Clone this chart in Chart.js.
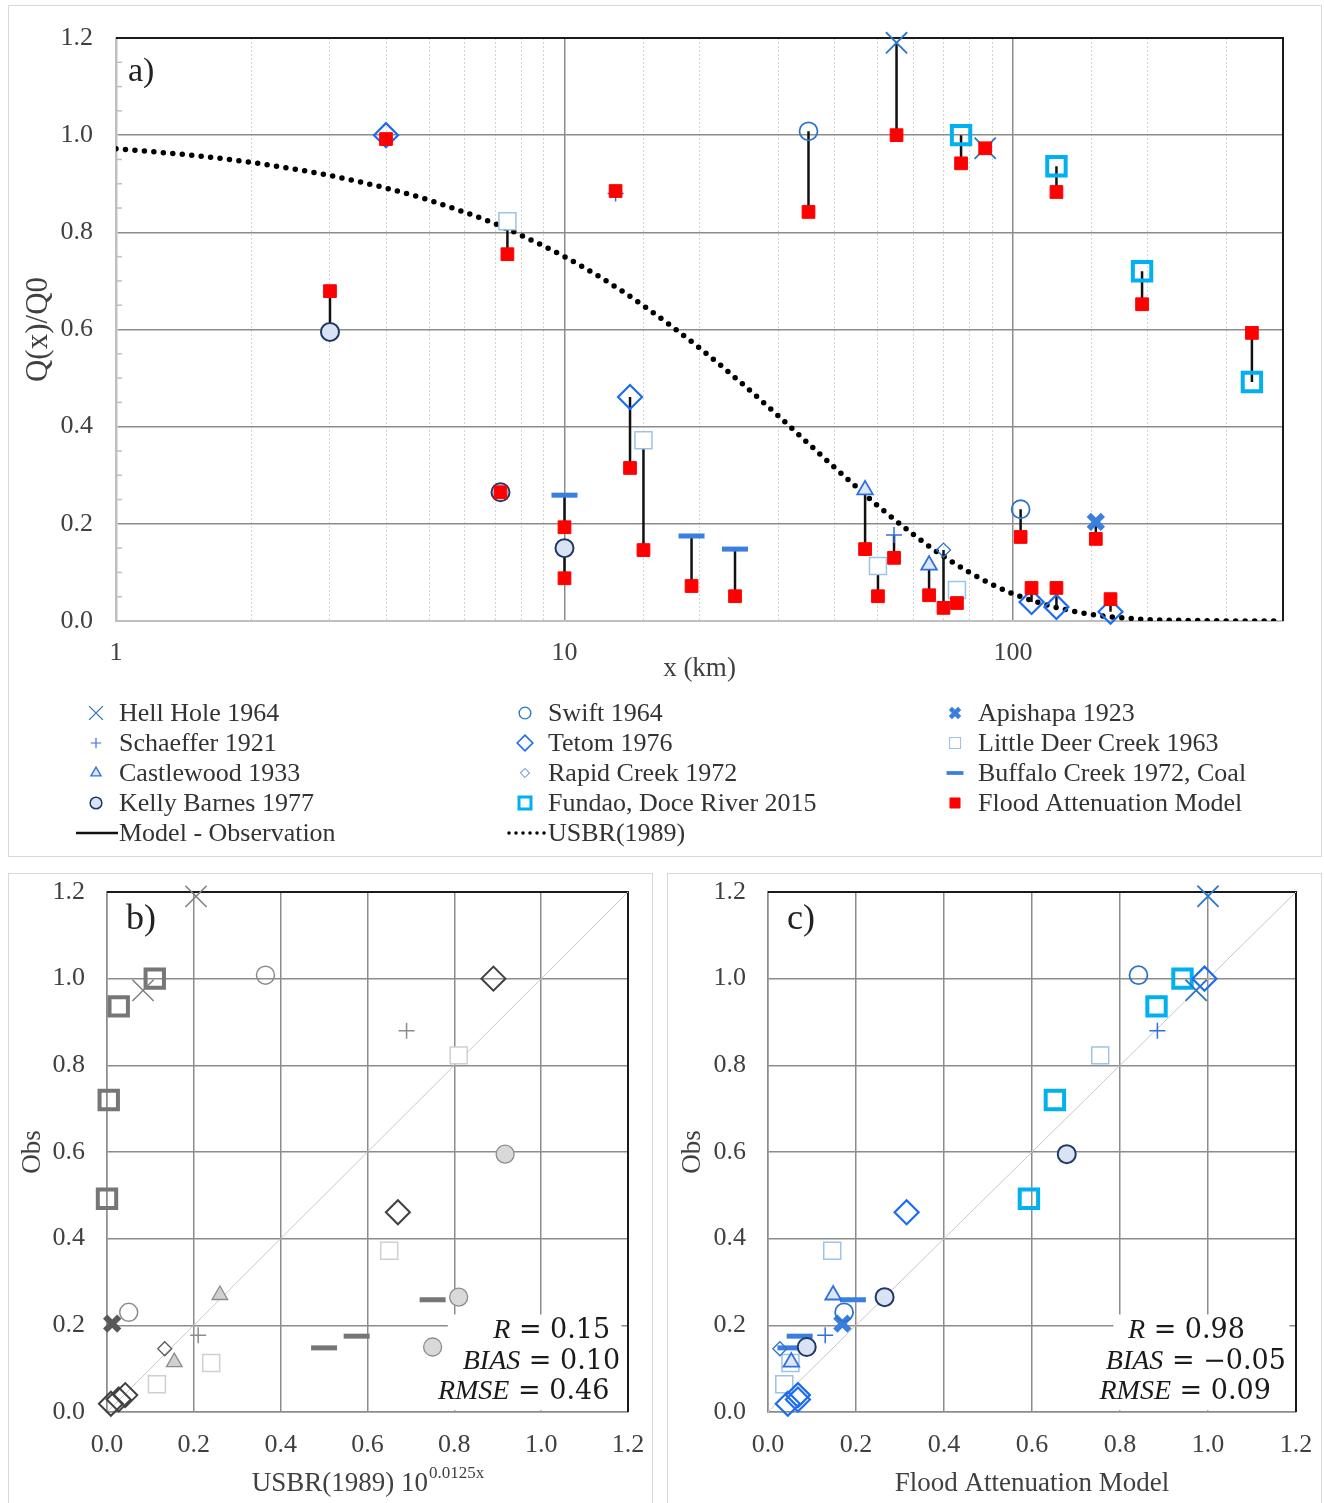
<!DOCTYPE html>
<html lang="en">
<head>
<meta charset="UTF-8">
<title>Flood attenuation vs observations</title>
<script src="https://cdn.jsdelivr.net/npm/chart.js"></script>
<style>
  body { margin: 0; background: #fff; width: 1324px; height: 1503px; overflow: hidden; position: relative; }
  .panel { position: absolute; border: 1px solid #d9d9d9; box-sizing: border-box; overflow: hidden; background: #fff; }
  #pa { left: 8px; top: 5px; width: 1314px; height: 852px; }
  #pb { left: 8px; top: 873px; width: 645px; height: 640px; }
  #pc { left: 667px; top: 873px; width: 655px; height: 640px; }
  canvas { display: block; }
</style>
</head>
<body>
<div class="panel" id="pa"><canvas id="chartA" width="1312" height="850"></canvas></div>
<div class="panel" id="pb"><canvas id="chartB" width="643" height="638"></canvas></div>
<div class="panel" id="pc"><canvas id="chartC" width="653" height="638"></canvas></div>

<script>
// ---- data ----
const sites = ['Hell Hole 1964', 'Schaeffer 1921', 'Castlewood 1933', 'Kelly Barnes 1977',
  'Swift 1964', 'Tetom 1976', 'Rapid Creek 1972', 'Fundao, Doce River 2015',
  'Apishapa 1923', 'Little Deer Creek 1963', 'Buffalo Creek 1972, Coal'];

// distance downstream (km)
const siteDist = [[55, 86.7], [13, 54.3], [46.8, 65], [3, 7.2, 10],
  [35, 104], [4, 14, 110, 125, 165], [70], [76.6, 125, 194, 341],
  [153], [7.46, 15, 50, 75], [10, 19.2, 24]];
// observed Q(x)/Q0
const siteObs = [[1.19, 0.973], [0.88, 0.177], [0.27, 0.115], [0.595, 0.265, 0.150],
  [1.008, 0.23], [1.0, 0.461, 0.039, 0.029, 0.019], [0.146], [1.0, 0.936, 0.72, 0.492],
  [0.204], [0.823, 0.372, 0.113, 0.064], [0.259, 0.175, 0.148]];
// flood attenuation model
const siteModel = [[1.0, 0.973], [0.885, 0.13], [0.148, 0.053], [0.679, 0.265, 0.088],
  [0.842, 0.173], [0.992, 0.315, 0.068, 0.068, 0.045], [0.027], [0.942, 0.883, 0.652, 0.593],
  [0.169], [0.755, 0.146, 0.051, 0.037], [0.193, 0.072, 0.051]];
// USBR(1989) value at each site (panel b x values)
const siteUsbr = [[0.205, 0.083], [0.69, 0.21], [0.26, 0.155], [0.917, 0.81, 0.75],
  [0.365, 0.05], [0.89, 0.67, 0.042, 0.027, 0.009], [0.133], [0.11, 0.027, 0.004, 0.0],
  [0.012], [0.81, 0.65, 0.24, 0.115], [0.75, 0.575, 0.50]];

// USBR(1989) dotted curve
const usbrDist = [1, 1.5, 2, 3, 4, 5, 6, 7, 8, 10, 12, 15, 20, 25, 30, 35, 40, 45, 50, 60, 70, 80, 90, 100, 120, 140, 160, 200, 250, 300, 400];
const usbrVal = [0.972, 0.958, 0.944, 0.917, 0.891, 0.866, 0.841, 0.818, 0.794, 0.75, 0.708, 0.649, 0.562, 0.487, 0.422, 0.365, 0.316, 0.274, 0.237, 0.178, 0.133, 0.1, 0.075, 0.056, 0.032, 0.018, 0.01, 0.003, 0.001, 0.0002, 0];

const yTicks = [0, 0.2, 0.4, 0.6, 0.8, 1.0, 1.2];
const xLogLabels = [1, 10, 100];
const oneToOne = [0, 1.2];
const statNames = ['R', 'BIAS', 'RMSE'];
const statsB = ['0.15', '0.10', '0.46'];
const statsC = ['0.98', '\u22120.05', '0.09'];

// ---- styles ----
const NONE = 'rgba(0,0,0,0)';
const blueStyle = [
  { pointStyle: 'crossRot', radius: 15, borderWidth: 1.8, borderColor: '#2e75c6', backgroundColor: NONE },
  { pointStyle: 'cross', radius: 8, borderWidth: 1.5, borderColor: '#2f6fe0', backgroundColor: NONE },
  { pointStyle: 'triangle', radius: 9, borderWidth: 1.8, borderColor: '#2f6fe0', backgroundColor: '#dce8f8' },
  { pointStyle: 'circle', radius: 9, borderWidth: 2, borderColor: '#203864', backgroundColor: '#dae3f3' },
  { pointStyle: 'circle', radius: 9, borderWidth: 1.8, borderColor: '#2e75c6', backgroundColor: NONE },
  { pointStyle: 'rectRot', radius: 12, borderWidth: 2.2, borderColor: '#1c6cf0', backgroundColor: NONE },
  { pointStyle: 'rectRot', radius: 7, borderWidth: 1.3, borderColor: '#2e75c6', backgroundColor: NONE },
  { pointStyle: 'rect', radius: 13, borderWidth: 4, borderColor: '#00b0f0', backgroundColor: NONE },
  { pointStyle: 'crossRot', radius: 10, borderWidth: 6, borderColor: '#3a7ee0', backgroundColor: NONE },
  { pointStyle: 'rect', radius: 12, borderWidth: 1.5, borderColor: '#9dc3e6', backgroundColor: '#ffffff' },
  { pointStyle: 'line', radius: 13, borderWidth: 5, borderColor: '#3a7ee0', backgroundColor: NONE }
];
const grayStyle = [
  { pointStyle: 'crossRot', radius: 15, borderWidth: 1.5, borderColor: '#7f7f7f', backgroundColor: NONE },
  { pointStyle: 'cross', radius: 8, borderWidth: 1.5, borderColor: '#8c8c8c', backgroundColor: NONE },
  { pointStyle: 'triangle', radius: 9, borderWidth: 1.3, borderColor: '#8c8c8c', backgroundColor: '#d0d0d0' },
  { pointStyle: 'circle', radius: 9, borderWidth: 1.3, borderColor: '#8c8c8c', backgroundColor: '#d9d9d9' },
  { pointStyle: 'circle', radius: 9, borderWidth: 1.5, borderColor: '#8c8c8c', backgroundColor: NONE },
  { pointStyle: 'rectRot', radius: 12, borderWidth: 2, borderColor: '#404040', backgroundColor: NONE },
  { pointStyle: 'rectRot', radius: 7, borderWidth: 1.3, borderColor: '#595959', backgroundColor: NONE },
  { pointStyle: 'rect', radius: 13, borderWidth: 4, borderColor: '#767676', backgroundColor: NONE },
  { pointStyle: 'crossRot', radius: 10, borderWidth: 6, borderColor: '#595959', backgroundColor: NONE },
  { pointStyle: 'rect', radius: 12, borderWidth: 1.5, borderColor: '#d0d0d0', backgroundColor: '#ffffff' },
  { pointStyle: 'line', radius: 13, borderWidth: 5, borderColor: '#767676', backgroundColor: NONE }
];
const modelStyle = { pointStyle: 'rect', radius: 9, borderWidth: 1, borderColor: '#ff0000', backgroundColor: '#ff0000' };

Chart.defaults.font.family = '"Liberation Serif", "Times New Roman", serif';
Chart.defaults.color = '#404040';

const FONT = '"Liberation Serif", "Times New Roman", serif';
const drawPoint = Chart.helpers.drawPoint;

function pairs(xs, ys) { return xs.map((x, i) => ({ x: x, y: ys[i] })); }
function near(a, b) { return Math.abs(a - b) < 1e-6; }
function isDecade(v) { const l = Math.log10(v); return Math.abs(l - Math.round(l)) < 1e-9; }

function markerSet(style, data, label, order) {
  return {
    label: label, data: data, order: order, clip: false,
    pointStyle: style.pointStyle, pointRadius: style.radius, pointHoverRadius: style.radius,
    pointBorderWidth: style.borderWidth, pointBorderColor: style.borderColor,
    pointBackgroundColor: style.backgroundColor, borderColor: style.borderColor, backgroundColor: style.backgroundColor
  };
}

function setMarker(ctx, style, x, y, scale) {
  ctx.fillStyle = style.backgroundColor;
  ctx.strokeStyle = style.borderColor;
  ctx.lineWidth = style.borderWidth * Math.max(scale, 0.75);
  drawPoint(ctx, { pointStyle: style.pointStyle, radius: style.radius * scale, borderWidth: style.borderWidth, rotation: 0 }, x, y);
}

// frame: black top and right edge, panel letter
function framePlugin(letter, lx, ly, size) {
  return {
    id: 'frame' + letter,
    beforeDatasetsDraw(chart) {
      const { ctx, chartArea: a } = chart;
      ctx.save();
      ctx.strokeStyle = '#1a1a1a';
      ctx.lineWidth = 2;
      ctx.beginPath();
      ctx.moveTo(a.left, a.top);
      ctx.lineTo(a.right, a.top);
      ctx.lineTo(a.right, a.bottom);
      ctx.stroke();
      ctx.fillStyle = '#222';
      ctx.font = size + 'px ' + FONT;
      ctx.textBaseline = 'middle';
      ctx.textAlign = 'left';
      ctx.fillText(letter, a.left + lx, a.top + ly);
      ctx.restore();
    }
  };
}

// white box with the statistics
function statsPlugin(values, rightX) {
  const rows = [0.188, 0.116, 0.046];
  return {
    id: 'stats',
    beforeDatasetsDraw(chart) {
      const { ctx, scales: { x, y } } = chart;
      ctx.save();
      const l = x.getPixelForValue(0.785), r = x.getPixelForValue(1.185);
      const t = y.getPixelForValue(0.225), b = y.getPixelForValue(0.004);
      ctx.fillStyle = '#fff';
      ctx.fillRect(l, t, r - l, b - t);
      ctx.fillStyle = '#1a1a1a';
      ctx.textBaseline = 'middle';
      ctx.textAlign = 'right';
      statNames.forEach((name, i) => {
        const px = x.getPixelForValue(rightX[i]);
        const py = y.getPixelForValue(rows[i]);
        ctx.font = '27px "DejaVu Serif", ' + FONT;
        const rest = ' = ' + values[i];
        const w = ctx.measureText(rest).width;
        ctx.fillText(rest, px, py);
        ctx.font = 'italic 28px ' + FONT;
        ctx.fillText(name, px - w, py);
      });
      ctx.restore();
    }
  };
}

const tickFont = { size: 26, lineHeight: 1 };

function squareScales(xTitle, yPad, yWidth) {
  return {
    x: {
      type: 'linear', min: 0, max: 1.2,
      afterBuildTicks: s => { s.ticks = yTicks.map(v => ({ value: v })); },
      afterFit: s => { s.height = 91; },
      ticks: { padding: 0, font: tickFont, callback: v => v.toFixed(1), maxRotation: 0, autoSkip: false },
      grid: { color: '#8c8c8c', lineWidth: 1.5, drawTicks: true, tickLength: 20, tickColor: NONE },
      border: { color: '#8c8c8c', width: 1.5 },
      title: xTitle ? { display: true, text: xTitle, font: { size: 27 }, color: '#404040', padding: { top: 0, bottom: 3 } } : { display: false }
    },
    y: {
      type: 'linear', min: 0, max: 1.2,
      afterBuildTicks: s => { s.ticks = yTicks.map(v => ({ value: v })); },
      afterFit: s => { s.width = yWidth; },
      ticks: { padding: 0, font: tickFont, callback: v => v.toFixed(1) },
      grid: { color: '#8c8c8c', lineWidth: 1.5, drawTicks: true, tickLength: 22, tickColor: NONE },
      border: { color: '#8c8c8c', width: 1.5 },
      title: { display: true, text: 'Obs', font: { size: 27 }, color: '#404040', padding: { top: yPad, bottom: 0 } }
    }
  };
}

// ---------------- panel a ----------------
const dsA = [];
const modelPts = [];
const diffPts = [];
sites.forEach((name, s) => {
  siteDist[s].forEach((d, i) => {
    modelPts.push({ x: d, y: siteModel[s][i] });
    diffPts.push({ x: d, y: siteObs[s][i] }, { x: d, y: siteModel[s][i] }, { x: d, y: null });
  });
});
dsA.push(markerSet(modelStyle, modelPts, 'Flood Attenuation Model', 0));
sites.forEach((name, s) => dsA.push(markerSet(blueStyle[s], pairs(siteDist[s], siteObs[s]), name, 1)));
dsA.push({ label: 'Model - Observation', data: diffPts, showLine: true, spanGaps: false, pointRadius: 0,
  borderColor: '#111', borderWidth: 2.5, order: 2, clip: false });
dsA.push({ label: 'USBR(1989)', data: pairs(usbrDist, usbrVal), showLine: true, pointRadius: 0,
  borderColor: '#000', borderWidth: 5.5, borderDash: [0, 9.5], borderCapStyle: 'round',
  cubicInterpolationMode: 'monotone', order: 3 });

const legendCols = [[0, 1, 2, 3, 'diff'], [4, 5, 6, 7, 'usbr'], [8, 9, 10, 'model']];
const legendPlugin = {
  id: 'legendGrid',
  beforeDatasetsDraw(chart) {
    const { ctx, chartArea: a, scales: { y } } = chart;
    ctx.save();
    // minor ticks on the left axis
    ctx.strokeStyle = '#bfbfbf';
    ctx.lineWidth = 1.5;
    for (let k = 1; k < 24; k++) {
      if (k % 4 === 0) continue;
      const py = y.getPixelForValue(k * 0.05);
      ctx.beginPath(); ctx.moveTo(a.left, py); ctx.lineTo(a.left + 6, py); ctx.stroke();
    }
    ctx.restore();
  },
  afterDraw(chart) {
    const ctx = chart.ctx;
    const markX = [87, 516, 946], textX = [110, 539, 969];
    ctx.save();
    ctx.textBaseline = 'middle';
    ctx.textAlign = 'left';
    legendCols.forEach((col, c) => {
      col.forEach((key, r) => {
        const yy = 707 + r * 30;
        let label;
        if (key === 'diff') {
          ctx.strokeStyle = '#111'; ctx.lineWidth = 2.5; ctx.setLineDash([]);
          ctx.beginPath(); ctx.moveTo(67, yy); ctx.lineTo(109, yy); ctx.stroke();
          label = 'Model - Observation';
        } else if (key === 'usbr') {
          ctx.strokeStyle = '#000'; ctx.lineWidth = 3.5; ctx.lineCap = 'round'; ctx.setLineDash([0, 7]);
          ctx.beginPath(); ctx.moveTo(500, yy); ctx.lineTo(537, yy); ctx.stroke();
          ctx.setLineDash([]); ctx.lineCap = 'butt';
          label = 'USBR(1989)';
        } else if (key === 'model') {
          setMarker(ctx, modelStyle, markX[c], yy, 0.8);
          label = 'Flood Attenuation Model';
        } else {
          setMarker(ctx, blueStyle[key], markX[c], yy, 0.65);
          label = sites[key];
        }
        ctx.fillStyle = '#333';
        ctx.font = '26px ' + FONT;
        ctx.fillText(label, textX[c], yy + 1);
      });
    });
    ctx.restore();
  }
};

new Chart(document.getElementById('chartA'), {
  type: 'scatter',
  data: { datasets: dsA },
  options: {
    responsive: false, animation: false,
    layout: { padding: { left: 0, right: 38, top: 32, bottom: 170 } },
    plugins: { legend: { display: false }, tooltip: { enabled: false } },
    scales: {
      x: {
        type: 'logarithmic', min: 1, max: 400,
        afterFit: s => { s.height = 65; },
        ticks: { padding: 0, font: tickFont, autoSkip: false, maxRotation: 0,
          callback: v => xLogLabels.some(l => near(l, v)) ? String(v) : '' },
        grid: {
          drawTicks: true, tickLength: 19, tickColor: NONE,
          color: c => (c.tick && isDecade(c.tick.value)) ? '#8c8c8c' : '#d4d4d4',
          lineWidth: c => (c.tick && isDecade(c.tick.value)) ? 1.5 : 1
        },
        border: { color: '#bfbfbf', width: 2, dash: c => (c.tick && !isDecade(c.tick.value)) ? [2, 2] : [] },
        title: { display: true, text: 'x (km)', font: { size: 27 }, color: '#404040', padding: { top: 0, bottom: 1 } }
      },
      y: {
        type: 'linear', min: 0, max: 1.2,
        afterBuildTicks: s => { s.ticks = yTicks.map(v => ({ value: v })); },
        afterFit: s => { s.width = 107; },
        ticks: { padding: 0, font: tickFont, callback: v => v.toFixed(1) },
        grid: { color: '#8c8c8c', lineWidth: 1.5, drawTicks: true, tickLength: 23, tickColor: NONE },
        border: { color: '#bfbfbf', width: 2.5 },
        title: { display: true, text: 'Q(x)/Q0', font: { size: 31 }, color: '#404040', padding: { top: 11, bottom: 0 } }
      }
    }
  },
  plugins: [framePlugin('a)', 12, 34, 34), legendPlugin]
});

// ---------------- panel b ----------------
const dsB = [];
sites.forEach((name, s) => dsB.push(markerSet(grayStyle[s], pairs(siteUsbr[s], siteObs[s]), name, 0)));
dsB.push({ label: '1:1', data: pairs(oneToOne, oneToOne), showLine: true, pointRadius: 0,
  borderColor: '#c8c8c8', borderWidth: 1, order: 5 });

const usbrTitle = {
  id: 'usbrTitle',
  afterDraw(chart) {
    const { ctx, chartArea: a } = chart;
    ctx.save();
    ctx.fillStyle = '#404040';
    ctx.textBaseline = 'middle';
    ctx.textAlign = 'left';
    const main = 'USBR(1989) 10', sup = '0.0125x';
    ctx.font = '27px ' + FONT;
    const w1 = ctx.measureText(main).width;
    ctx.font = '17px ' + FONT;
    const w2 = ctx.measureText(sup).width;
    const x0 = (a.left + a.right) / 2 - (w1 + w2) / 2;
    ctx.font = '27px ' + FONT;
    ctx.fillText(main, x0, 610);
    ctx.font = '17px ' + FONT;
    ctx.fillText(sup, x0 + w1 + 1, 600);
    ctx.restore();
  }
};

new Chart(document.getElementById('chartB'), {
  type: 'scatter',
  data: { datasets: dsB },
  options: {
    responsive: false, animation: false,
    layout: { padding: { left: 0, right: 24, top: 15, bottom: 9 } },
    plugins: { legend: { display: false }, tooltip: { enabled: false } },
    scales: squareScales(null, 8, 98)
  },
  plugins: [framePlugin('b)', 19, 28, 36), statsPlugin(statsB, [1.159, 1.182, 1.157]), usbrTitle]
});

// ---------------- panel c ----------------
const dsC = [];
sites.forEach((name, s) => dsC.push(markerSet(blueStyle[s], pairs(siteModel[s], siteObs[s]), name, 0)));
dsC.push({ label: '1:1', data: pairs(oneToOne, oneToOne), showLine: true, pointRadius: 0,
  borderColor: '#c8c8c8', borderWidth: 1, order: 5 });

new Chart(document.getElementById('chartC'), {
  type: 'scatter',
  data: { datasets: dsC },
  options: {
    responsive: false, animation: false,
    layout: { padding: { left: 0, right: 25, top: 15, bottom: 9 } },
    plugins: { legend: { display: false }, tooltip: { enabled: false } },
    scales: squareScales('Flood Attenuation Model', 9, 100)
  },
  plugins: [framePlugin('c)', 19, 28, 36), statsPlugin(statsC, [1.084, 1.177, 1.143])]
});
</script>
</body>
</html>
